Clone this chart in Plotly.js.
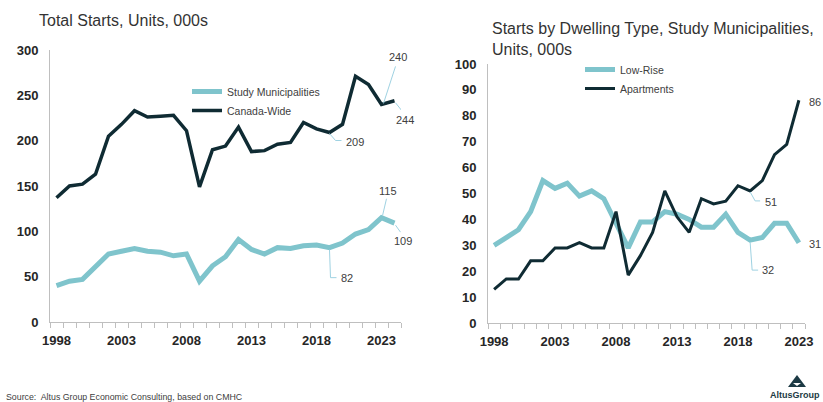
<!DOCTYPE html>
<html>
<head>
<meta charset="utf-8">
<script src="https://cdn.plot.ly/plotly-3.0.1.min.js"></script>
<style>html,body{margin:0;padding:0;background:#fff;}#chart{width:823px;height:402px;}</style>
</head>
<body>
<div id="chart"></div>
<script>
// ---- Data ----
const yearsTotal = [1998,1999,2000,2001,2002,2003,2004,2005,2006,2007,2008,2009,2010,2011,2012,2013,2014,2015,2016,2017,2018,2019,2020,2021,2022,2023,2024];
const studyMunicipalities = [40,45,47,61,75,78,81,78,77,73,75,45,62,72,91,80,75,82,81,84,85,82,87,97,102,115,109];
const canadaWide = [137,150,152,163,205,218,233,226,227,228,211,149,190,194,215,188,189,196,198,220,213,209,218,271,262,240,244];

const yearsType = [1998,1999,2000,2001,2002,2003,2004,2005,2006,2007,2008,2009,2010,2011,2012,2013,2014,2015,2016,2017,2018,2019,2020,2021,2022,2023];
const lowRise = [30,33,36,43,55,52,54,49,51,48,38,29,39,39,43,42,40,37,37,42,35,32,33,38.5,38.5,31];
const apartments = [13,17,17,24,24,29,29,31,29,29,43,18.5,26,35,51,41,35,48,46,47,53,51,55,65,69,86];

const titleLeft = "Total Starts, Units, 000s";
const titleRight = "Starts by Dwelling Type, Study Municipalities,<br>Units, 000s";
const sourceText = "Source:  Altus Group Economic Consulting, based on CMHC";
const logoText = "AltusGroup";

// ---- Styles ----
const LIGHT = '#7fc4cc';
const DARK = '#0f2b33';
const LEADER = '#9fd2e2';
const AXIS = '#bfbfbf';
const FONT = 'Liberation Sans, Arial, sans-serif';
const tickFont = {family: FONT, size: 13, color: '#262626', weight: 'bold'};

const traces = [
  {x: yearsTotal, y: studyMunicipalities, name: 'Study Municipalities', type: 'scatter', mode: 'lines',
   line: {color: LIGHT, width: 5}, xaxis: 'x', yaxis: 'y', legend: 'legend'},
  {x: yearsTotal, y: canadaWide, name: 'Canada-Wide', type: 'scatter', mode: 'lines',
   line: {color: DARK, width: 3.5}, xaxis: 'x', yaxis: 'y', legend: 'legend'},
  {x: yearsType, y: lowRise, name: 'Low-Rise', type: 'scatter', mode: 'lines',
   line: {color: LIGHT, width: 5}, xaxis: 'x2', yaxis: 'y2', legend: 'legend2'},
  {x: yearsType, y: apartments, name: 'Apartments', type: 'scatter', mode: 'lines',
   line: {color: DARK, width: 3}, xaxis: 'x2', yaxis: 'y2', legend: 'legend2'}
];

function xAxis(domain, range) {
  return {
    domain: domain, range: range, type: 'linear',
    tickmode: 'linear', tick0: 1998, dtick: 5, ticks: '',
    tickfont: tickFont, showgrid: false, zeroline: false,
    showline: true, linecolor: AXIS, linewidth: 1,
    ticklabelstandoff: 6,
    minor: {tickmode: 'linear', tick0: 1997.5, dtick: 1, ticks: 'outside', ticklen: 5, tickcolor: AXIS, tickwidth: 1, showgrid: false}
  };
}
function yAxis(domain, range, dtick, anchor) {
  return {
    domain: domain, range: range, dtick: dtick, tickmode: 'linear', tick0: 0,
    ticks: '', tickfont: tickFont, showgrid: false, zeroline: false,
    showline: true, linecolor: AXIS, linewidth: 1, anchor: anchor, ticklabelstandoff: 8
  };
}

// value lookup from arrays
const v = (xs, ys, yr) => ys[xs.indexOf(yr)];

// label annotations: [xref, yref, year, years, values, dx(px), dy(px, up+), anchor]
const labelSpecs = [
  ['x','y',2023, yearsTotal, canadaWide, 16, 47, 'center'],
  ['x','y',2024, yearsTotal, canadaWide, 10, -19, 'center'],
  ['x','y',2019, yearsTotal, canadaWide, 14, -9, 'left'],
  ['x','y',2023, yearsTotal, studyMunicipalities, 6, 27, 'center'],
  ['x','y',2024, yearsTotal, studyMunicipalities, 8, -18, 'center'],
  ['x','y',2019, yearsTotal, studyMunicipalities, 9, -30, 'left'],
  ['x2','y2',2023, yearsType, apartments, 8, -2, 'left'],
  ['x2','y2',2019, yearsType, apartments, 13, -11, 'left'],
  ['x2','y2',2019, yearsType, lowRise, 10, -30, 'left'],
  ['x2','y2',2023, yearsType, lowRise, 8, -1, 'left']
];
const annotations = labelSpecs.map(s => ({
  xref: s[0], yref: s[1], x: s[2], y: v(s[3], s[4], s[2]),
  text: String(Math.round(v(s[3], s[4], s[2]))),
  showarrow: false, xanchor: s[7], yanchor: 'middle', xshift: s[5], yshift: s[6],
  font: {family: FONT, size: 11, color: '#404040'}
}));

// leader lines anchored at data points (pixel paths, y up positive)
const leaderSpecs = [
  ['x','y',2023, yearsTotal, canadaWide, 'M2,1 L14,38'],
  ['x','y',2024, yearsTotal, canadaWide, 'M1,-2 L9,-12'],
  ['x','y',2019, yearsTotal, canadaWide, 'M0,-1 L6,-8 L12,-8'],
  ['x','y',2023, yearsTotal, studyMunicipalities, 'M1,2 L5,19'],
  ['x','y',2024, yearsTotal, studyMunicipalities, 'M1,-2 L6,-9'],
  ['x','y',2019, yearsTotal, studyMunicipalities, 'M0,-2 L1,-30 L7,-30'],
  ['x2','y2',2019, yearsType, apartments, 'M0,-1 L5,-10 L10,-10'],
  ['x2','y2',2019, yearsType, lowRise, 'M0,-2 L2,-30 L8,-30']
];
const shapes = leaderSpecs.map(s => ({
  type: 'path', xref: s[0], yref: s[1], xsizemode: 'pixel', ysizemode: 'pixel',
  xanchor: s[2], yanchor: v(s[3], s[4], s[2]), path: s[5],
  line: {color: LEADER, width: 1}
}));

// titles, source, logo
annotations.push(
  {xref: 'paper', yref: 'paper', x: 37/823, y: 1 - 20/402, xanchor: 'left', yanchor: 'middle', showarrow: false,
   text: titleLeft, font: {family: FONT, size: 16, color: '#333333'}},
  {xref: 'paper', yref: 'paper', x: 490/823, y: 1 - 18/402, xanchor: 'left', yanchor: 'top', showarrow: false, align: 'left',
   text: titleRight, font: {family: FONT, size: 16, color: '#333333'}},
  {xref: 'paper', yref: 'paper', x: 4/823, y: 1 - 397/402, xanchor: 'left', yanchor: 'middle', showarrow: false,
   text: sourceText, font: {family: FONT, size: 8.8, color: '#404040'}},
  {xref: 'paper', yref: 'paper', x: 822/823, y: 1 - 395/402, xanchor: 'right', yanchor: 'middle', showarrow: false,
   text: logoText, font: {family: FONT, size: 9, color: '#1c3a44', weight: 'bold'}}
);
shapes.push(
  {type: 'path', xref: 'paper', yref: 'paper',
   path: `M ${788/823},${1-387/402} L ${797/823},${1-375/402} L ${806/823},${1-387/402} Z`,
   fillcolor: '#1c3a44', line: {width: 0}},
  {type: 'path', xref: 'paper', yref: 'paper',
   path: `M ${793/823},${1-383/402} L ${801/823},${1-383/402} L ${797/823},${1-386/402} Z`,
   fillcolor: '#ffffff', line: {width: 0}}
);

const legendFont = {family: FONT, size: 10.5, color: '#404040'};
const layout = {
  width: 823, height: 402, autosize: false,
  margin: {l: 0, r: 0, t: 0, b: 0},
  paper_bgcolor: '#ffffff', plot_bgcolor: '#ffffff',
  xaxis: xAxis([50/823, 401/823], [1997.5, 2024.5]),
  yaxis: yAxis([1 - 322/402, 1 - 50/402], [0, 300], 50, 'x'),
  xaxis2: Object.assign(xAxis([488/823, 805/823], [1997.5, 2023.5]), {anchor: 'y2'}),
  yaxis2: yAxis([1 - 323/402, 1 - 64/402], [0, 100], 10, 'x2'),
  legend: {x: 187/823, y: 1 - 77/402, xanchor: 'left', yanchor: 'top', bgcolor: 'rgba(0,0,0,0)',
           font: legendFont, itemwidth: 30, tracegroupgap: 0},
  legend2: {x: 580/823, y: 1 - 55/402, xanchor: 'left', yanchor: 'top', bgcolor: 'rgba(0,0,0,0)',
            font: legendFont, itemwidth: 30, tracegroupgap: 0},
  showlegend: true,
  annotations: annotations,
  shapes: shapes
};

Plotly.newPlot('chart', traces, layout, {displayModeBar: false, staticPlot: true});
</script>
</body>
</html>
